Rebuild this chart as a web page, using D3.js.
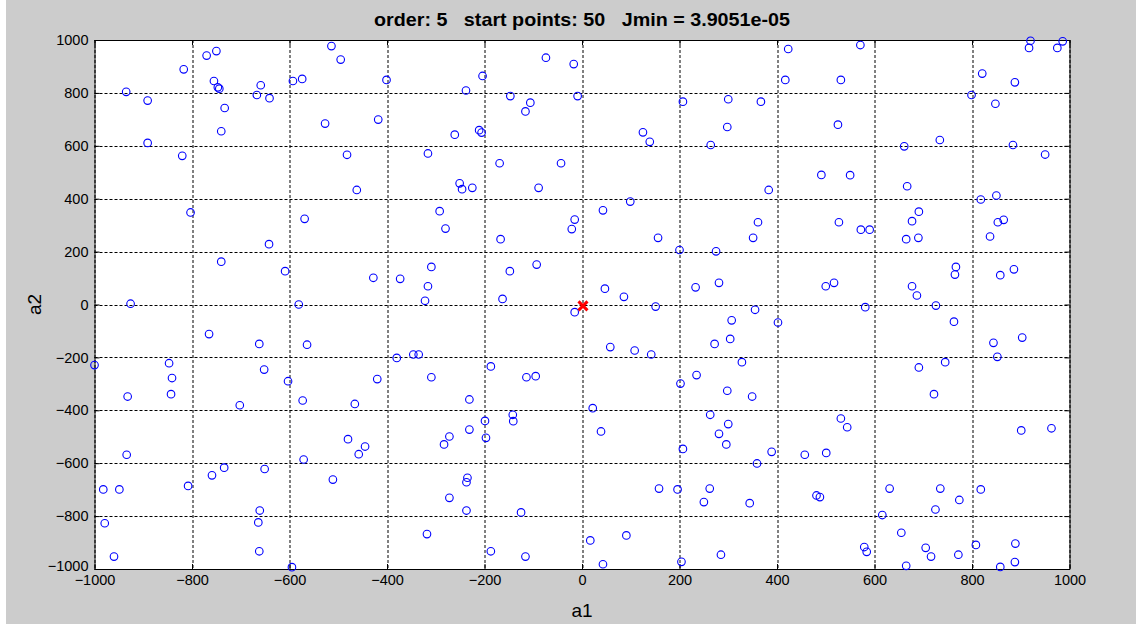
<!DOCTYPE html>
<html>
<head>
<meta charset="utf-8">
<script src="https://cdn.jsdelivr.net/npm/d3@7"></script>
<style>
  body { margin: 0; background: #cccccc; }
  #chart { width: 1136px; height: 624px; }
  text { font-family: "Liberation Sans", Arial, sans-serif; }
</style>
</head>
<body>
<div id="chart"></div>
<script>
// start points (a1, a2)
var a1 = [-514,-770,-750,-817,-935,-891,-755,-747,-744,-733,-740,-659,-667,-641,-593,-574,-527,-891,-820,-803,-569,-642,-740,-609,-926,-581,
  -495,-401,-74,-17,-204,-238,-147,-106,-116,-9,-418,-261,-211,-206,-482,-316,-169,-43,-462,-251,-246,-225,-89,-292,-280,-167,-15,-21,-93,-148,-309,-428,-373,-316,-322,-163,
  423,417,207,300,367,125,139,298,264,491,383,43,99,156,361,351,200,275,47,86,233,281,500,
  571,531,920,917,986,975,821,888,799,848,525,734,661,884,950,550,667,818,850,527,572,590,691,677,665,690,853,865,837,767,765,886,858,517,677,687,
  -765,-662,-564,-1000,-847,-841,-843,-932,-652,-603,-573,-702,-934,-571,-982,-949,-808,-759,-734,-651,-511,-661,-664,-979,-960,-662,-595,
  -15,-380,-346,-335,-420,-309,-187,-114,-95,-466,-231,-199,-142,-141,-480,-445,-458,-272,-283,-231,-197,-235,-237,-272,-237,-125,-318,-187,-116,
  151,355,307,402,58,108,142,272,304,328,235,202,298,349,22,39,263,300,281,296,207,389,359,457,501,158,196,262,250,344,481,488,17,91,43,204,285,
  581,726,763,844,903,852,691,745,722,531,544,901,963,631,735,818,774,725,616,655,579,584,705,716,772,808,889,888,858,665];
var a2 = [977,941,958,889,804,771,845,821,816,743,655,829,792,780,845,853,684,611,562,348,324,228,162,126,3,0,
  926,849,933,909,864,809,788,763,730,788,699,642,659,650,566,571,534,534,433,458,436,441,441,353,287,247,321,285,151,126,142,101,97,69,14,21,
  966,849,767,776,767,651,615,671,603,490,433,356,389,252,311,252,206,201,60,29,65,82,69,
  981,849,997,970,995,970,873,840,792,759,680,622,598,603,567,489,447,397,412,311,283,283,351,315,247,252,311,320,257,142,113,133,111,82,69,34,
  -112,-149,-152,-229,-222,-278,-339,-348,-246,-290,-363,-381,-568,-586,-699,-699,-686,-646,-617,-622,-662,-779,-824,-827,-953,-933,-993,
  -29,-202,-189,-189,-282,-275,-234,-275,-271,-376,-359,-440,-417,-441,-509,-537,-566,-499,-529,-473,-504,-655,-672,-731,-779,-786,-868,-933,-953,
  -8,-20,-60,-68,-161,-174,-189,-149,-130,-218,-267,-299,-326,-348,-392,-480,-417,-452,-489,-529,-546,-557,-601,-568,-561,-696,-699,-696,-747,-751,-722,-728,-892,-873,-982,-973,-946,
  -10,-4,-65,-145,-125,-198,-238,-218,-339,-431,-464,-476,-468,-696,-696,-699,-739,-775,-796,-863,-917,-935,-920,-953,-946,-909,-904,-974,-992,-988];

// best point found
var best = [2, -5];

var tickValues = [-1000,-800,-600,-400,-200,0,200,400,600,800,1000];
var title = "order: 5   start points: 50   Jmin = 3.9051e-05";

var W = 1136, H = 624;
var margin = {top: 40, right: 66.5, bottom: 55, left: 94.5},
    width = W - margin.left - margin.right,
    height = H - margin.top - margin.bottom;

var svg = d3.select("#chart").append("svg")
    .attr("width", W)
    .attr("height", H);

svg.append("rect").attr("width", W).attr("height", H).attr("fill", "#cccccc");
svg.append("rect").attr("width", 6).attr("height", H).attr("fill", "#ffffff");

var g = svg.append("g")
    .attr("transform", "translate(" + margin.left + "," + margin.top + ")");

var x = d3.scaleLinear().domain([-1000, 1000]).range([0, width]);
var y = d3.scaleLinear().domain([-1000, 1000]).range([height, 0]);
var fmt = d3.format("d");

// plot area
g.append("rect").attr("width", width).attr("height", height).attr("fill", "#ffffff");

// dotted grid
g.selectAll(".gx").data(tickValues).enter().append("line")
    .attr("x1", function(d) { return Math.round(x(d)) + 0.5; })
    .attr("x2", function(d) { return Math.round(x(d)) + 0.5; })
    .attr("y1", 0).attr("y2", height)
    .attr("stroke", "#000").attr("stroke-width", 1).attr("stroke-dasharray", "3,2");
g.selectAll(".gy").data(tickValues).enter().append("line")
    .attr("y1", function(d) { return Math.round(y(d)) + 0.5; })
    .attr("y2", function(d) { return Math.round(y(d)) + 0.5; })
    .attr("x1", 0).attr("x2", width)
    .attr("stroke", "#000").attr("stroke-width", 1).attr("stroke-dasharray", "3,2");

// axes (ticks point inward, box on)
function styleAxis(sel) {
  sel.select(".domain").attr("stroke", "#000");
  sel.selectAll(".tick line").attr("stroke", "#000");
  sel.selectAll("text").attr("font-size", 14.5).attr("fill", "#000")
     .attr("font-family", "'Liberation Sans', Arial, sans-serif");
}
g.append("g").attr("transform", "translate(0," + height + ")")
    .call(d3.axisBottom(x).tickValues(tickValues).tickFormat(fmt).tickSize(-5).tickSizeOuter(0).tickPadding(6))
    .call(styleAxis);
g.append("g")
    .call(d3.axisTop(x).tickValues(tickValues).tickSize(-5).tickSizeOuter(0).tickFormat(""))
    .call(styleAxis);
var yAx = g.append("g")
    .call(d3.axisLeft(y).tickValues(tickValues).tickFormat(fmt).tickSize(-5).tickSizeOuter(0).tickPadding(6))
    .call(styleAxis);
// MATLAB-style corner: lowest y label sits just above the x label
yAx.selectAll(".tick text").filter(function(d) { return d === -1000; }).attr("dy", "0.1em");
g.append("g").attr("transform", "translate(" + width + ",0)")
    .call(d3.axisRight(y).tickValues(tickValues).tickSize(-5).tickSizeOuter(0).tickFormat(""))
    .call(styleAxis);

// points
var pts = a1.map(function(v, i) { return [v, a2[i]]; });
g.selectAll(".dot").data(pts).enter().append("circle")
    .attr("cx", function(d) { return x(d[0]); })
    .attr("cy", function(d) { return y(d[1]); })
    .attr("r", 3.8)
    .attr("fill", "none")
    .attr("stroke", "#0000ff")
    .attr("stroke-width", 1.1);

// best point marker
var bx = x(best[0]), by = y(best[1]), s = 4.5;
g.append("path")
    .attr("d", "M" + (bx - s) + "," + (by - s) + "L" + (bx + s) + "," + (by + s) +
               "M" + (bx - s) + "," + (by + s) + "L" + (bx + s) + "," + (by - s))
    .attr("stroke", "#ff0000").attr("stroke-width", 3).attr("fill", "none");

// labels
svg.append("text")
    .attr("x", margin.left + width / 2).attr("y", 26)
    .attr("text-anchor", "middle")
    .attr("font-size", 19).attr("font-weight", "bold")
    .attr("textLength", 416).attr("lengthAdjust", "spacingAndGlyphs")
    .style("white-space", "pre")
    .text(title);

svg.append("text")
    .attr("x", margin.left + width / 2).attr("y", 617)
    .attr("text-anchor", "middle")
    .attr("font-size", 19)
    .text("a1");

svg.append("text")
    .attr("transform", "translate(41," + (margin.top + height / 2) + ") rotate(-90)")
    .attr("text-anchor", "middle")
    .attr("font-size", 19)
    .text("a2");
</script>
</body>
</html>
